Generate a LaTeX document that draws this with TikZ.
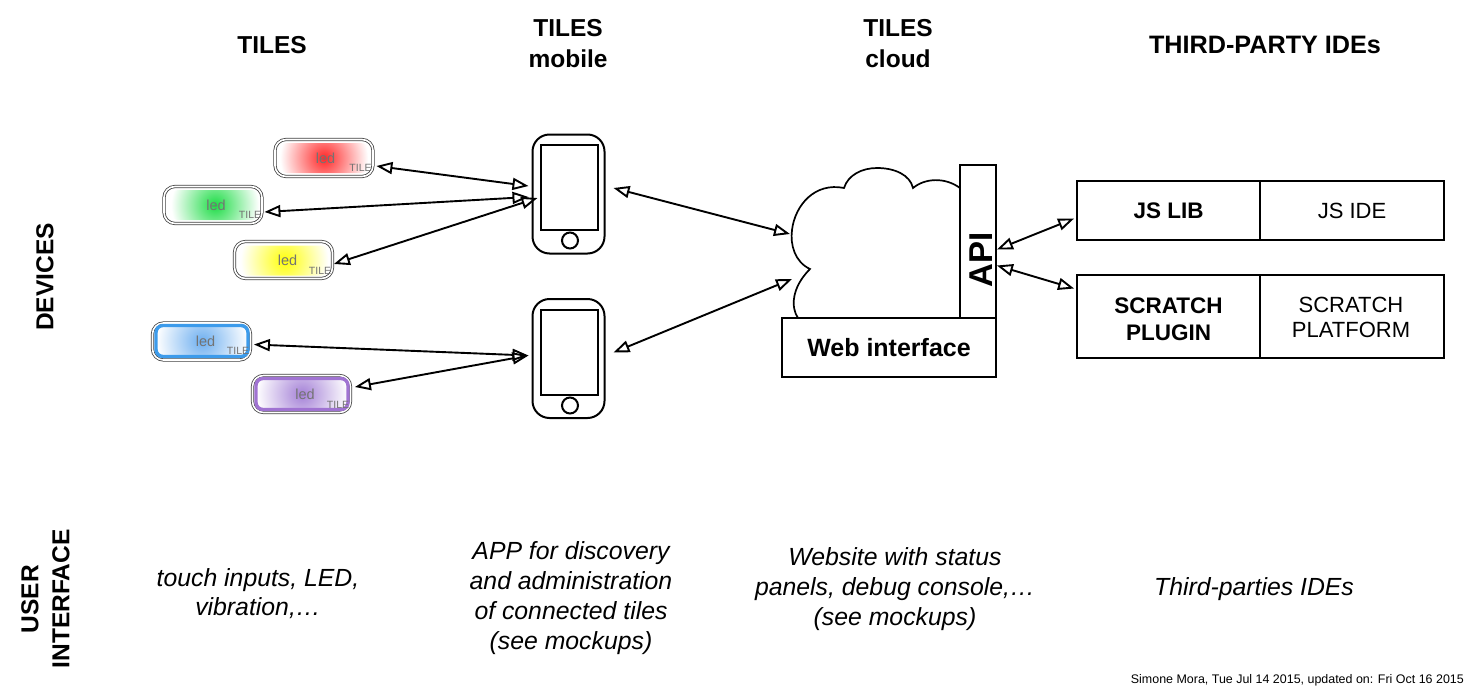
\documentclass[tikz,border=0pt]{standalone}
\usepackage{fontspec}
\setmainfont{Liberation Sans}
\usetikzlibrary{arrows.meta}
\definecolor{ledred}{RGB}{255,40,40}
\definecolor{ledgreen}{RGB}{30,220,70}
\definecolor{ledyellow}{RGB}{255,255,10}
\definecolor{ledblue}{RGB}{110,175,240}
\definecolor{ledpurple}{RGB}{165,130,215}
\definecolor{ringblue}{RGB}{60,155,235}
\definecolor{ringpurple}{RGB}{160,115,210}
\tikzset{
    head/.style={font=\fontsize{24.5}{31}\selectfont\bfseries,align=center},
    side/.style={font=\fontsize{24.5}{31}\selectfont\bfseries,align=center,rotate=90},
    note/.style={font=\fontsize{24.8}{29.8}\selectfont\itshape,align=center},
    shell/.style={draw=black!75,line width=0.8pt,double=white,double distance=1.6pt,
        rounded corners=11pt,minimum width=98pt,minimum height=37pt},
    glow/.style={fill=white,rounded corners=7pt,minimum width=88pt,minimum height=30pt,inner sep=0pt,
        path picture={\shade[inner color=#1,outer color=white] (path picture bounding box.center) circle (44pt);},
        text=black!55,font=\fontsize{14.5}{15}\selectfont},
    ringed/.style={draw=#1,line width=3.4pt,minimum width=92pt,minimum height=31pt},
    stamp/.style={text=black!55,inner sep=0pt,font=\fontsize{10.5}{11}\selectfont},
    body/.style={draw,line width=2pt,rounded corners=17pt,minimum width=72pt,minimum height=119pt},
    screen/.style={draw,line width=2pt,minimum width=57pt,minimum height=85pt},
    homekey/.style={draw,circle,line width=2pt,minimum size=16pt,inner sep=0pt},
    box/.style={draw,line width=1.8pt,fill=white,align=center,inner sep=0pt},
    link/.style={{Triangle[open,length=16pt,width=12pt]}-{Triangle[open,length=16pt,width=12pt]},line width=1.9pt},
}
\begin{document}
\begin{tikzpicture}[x=1pt,y=-1pt]
    \useasboundingbox (0,0) rectangle (1479,699);
    % column and row titles
    \node[head] (headtiles) at (272,45) {TILES};
    \node[head] (headmobile) at (568,44) {TILES\\mobile};
    \node[head] (headcloud) at (898,44) {TILES\\cloud};
    \node[head,font=\fontsize{25.2}{31}\selectfont\bfseries] (headide) at (1265,45) {THIRD-PARTY IDEs};
    \node[side] (rowdevices) at (45,277) {DEVICES};
    \node[side] (rowuser) at (45.5,599) {USER\\INTERFACE};
    % tiles
    \node[shell] (tilered) at (324,158) {};
    \node[glow=ledred] (ledred) at (324,158) {\hspace{3pt}led};
    \node[stamp] (stampred) at (360.5,168) {TILE};
    \node[shell] (tilegreen) at (213,205) {};
    \node[glow=ledgreen] (ledgreen) at (215,205) {\hspace{2pt}led};
    \node[stamp] (stampgreen) at (250,215) {TILE};
    \node[shell] (tileyellow) at (283.5,260) {};
    \node[glow=ledyellow] (ledyellow) at (284.5,260.5) {\hspace{6pt}led};
    \node[stamp] (stampyellow) at (320,271) {TILE};
    \node[shell] (tileblue) at (201.5,341.5) {};
    \node[glow=ledblue,ringed=ringblue] (ledblue) at (202,341) {\hspace{7pt}led};
    \node[stamp] (stampblue) at (238,351) {TILE};
    \node[shell] (tilepurple) at (301.5,394) {};
    \node[glow=ledpurple,ringed=ringpurple] (ledpurple) at (302,394) {\hspace{6pt}led};
    \node[stamp] (stamppurple) at (338,405) {TILE};
    % phones
    \node[body] (phonetop) at (568.5,194) {};
    \node[screen] (screentop) at (569,187.5) {};
    \node[homekey] (keytop) at (570,240.5) {};
    \node[body] (phonelow) at (568.5,358.5) {};
    \node[screen] (screenlow) at (569,352) {};
    \node[homekey] (keylow) at (570,405.5) {};
    % cloud
    \draw[line width=1.7pt] (798,318) .. controls (791,308) and (791,288) .. (810,269)
        .. controls (795,262) and (790,245) .. (792,230)
        .. controls (795,205) and (815,182) .. (844,188)
        .. controls (848,175) and (862,168) .. (877,168)
        .. controls (895,168) and (910,175) .. (913,188)
        .. controls (925,178) and (945,177) .. (960,188);
    \node[box,minimum width=36pt,minimum height=153pt] (api) at (978,241.5) {};
    \node[rotate=90,font=\fontsize{33}{33}\selectfont\bfseries] (apilabel) at (981,260) {API};
    \node[box,minimum width=214pt,minimum height=59pt,font=\fontsize{25}{30}\selectfont\bfseries] (web) at (889,347.5) {Web interface};
    \coordinate (cloudtop) at (790,234);
    \coordinate (cloudlow) at (792,279);
    % third-party boxes
    \node[box,minimum width=183pt,minimum height=59pt,font=\fontsize{22.5}{27}\selectfont\bfseries] (jslib) at (1168.5,210.5) {JS LIB};
    \node[box,minimum width=184pt,minimum height=59pt,font=\fontsize{22}{27}\selectfont] (jside) at (1352,210.5) {JS IDE};
    \node[box,minimum width=183pt,minimum height=83pt] (plugin) at (1168.5,316.5) {};
    \node[font=\fontsize{22.5}{27}\selectfont\bfseries,align=center] (plugintext) at (1168.5,319) {SCRATCH\\PLUGIN};
    \node[box,minimum width=184pt,minimum height=83pt] (platform) at (1352,316.5) {};
    \node[font=\fontsize{22}{25}\selectfont,align=center] (platformtext) at (1351,317) {SCRATCH\\PLATFORM};
    % connections
    \draw[link] ([shift={(3,8)}]tilered.east) -- ([shift={(-3,-8)}]phonetop.west);
    \draw[link] ([shift={(2,7)}]tilegreen.east) -- ([shift={(-3,3)}]phonetop.west);
    \draw[link] ([shift={(1,4)}]tileyellow.east) -- ([shift={(6,4)}]phonetop.west);
    \draw[link] ([shift={(3,3)}]tileblue.east) -- ([shift={(-3,-3)}]phonelow.west);
    \draw[link] ([shift={(4,-7)}]tilepurple.east) -- ([shift={(-3,-3)}]phonelow.west);
    \draw[link] ([shift={(8,-6)}]phonetop.east) -- (cloudtop);
    \draw[link] ([shift={(8,-6)}]phonelow.east) -- (cloudlow);
    \draw[link] ([shift={(0,8)}]api.east) -- ([shift={(-2,8)}]jslib.west);
    \draw[link] ([shift={(0,24)}]api.east) -- ([shift={(-2,-28)}]plugin.west);
    % user interface notes
    \node[note] (notetiles) at (258,593.5) {touch inputs, LED,\\vibration,\dots};
    \node[note] (notemobile) at (571,598) {APP for discovery\\and administration\\of connected tiles\\(see mockups)};
    \node[note] (notecloud) at (895,589) {Website with status\\panels, debug console,\dots\\(see mockups)};
    \node[note] (noteide) at (1254,589) {Third-parties IDEs};
    \node[font=\fontsize{12.45}{14}\selectfont,anchor=east,inner sep=0pt] (credit) at (1464,680) {Simone Mora, Tue Jul 14 2015, updated on: Fri Oct 16 2015};
\end{tikzpicture}
\end{document}
